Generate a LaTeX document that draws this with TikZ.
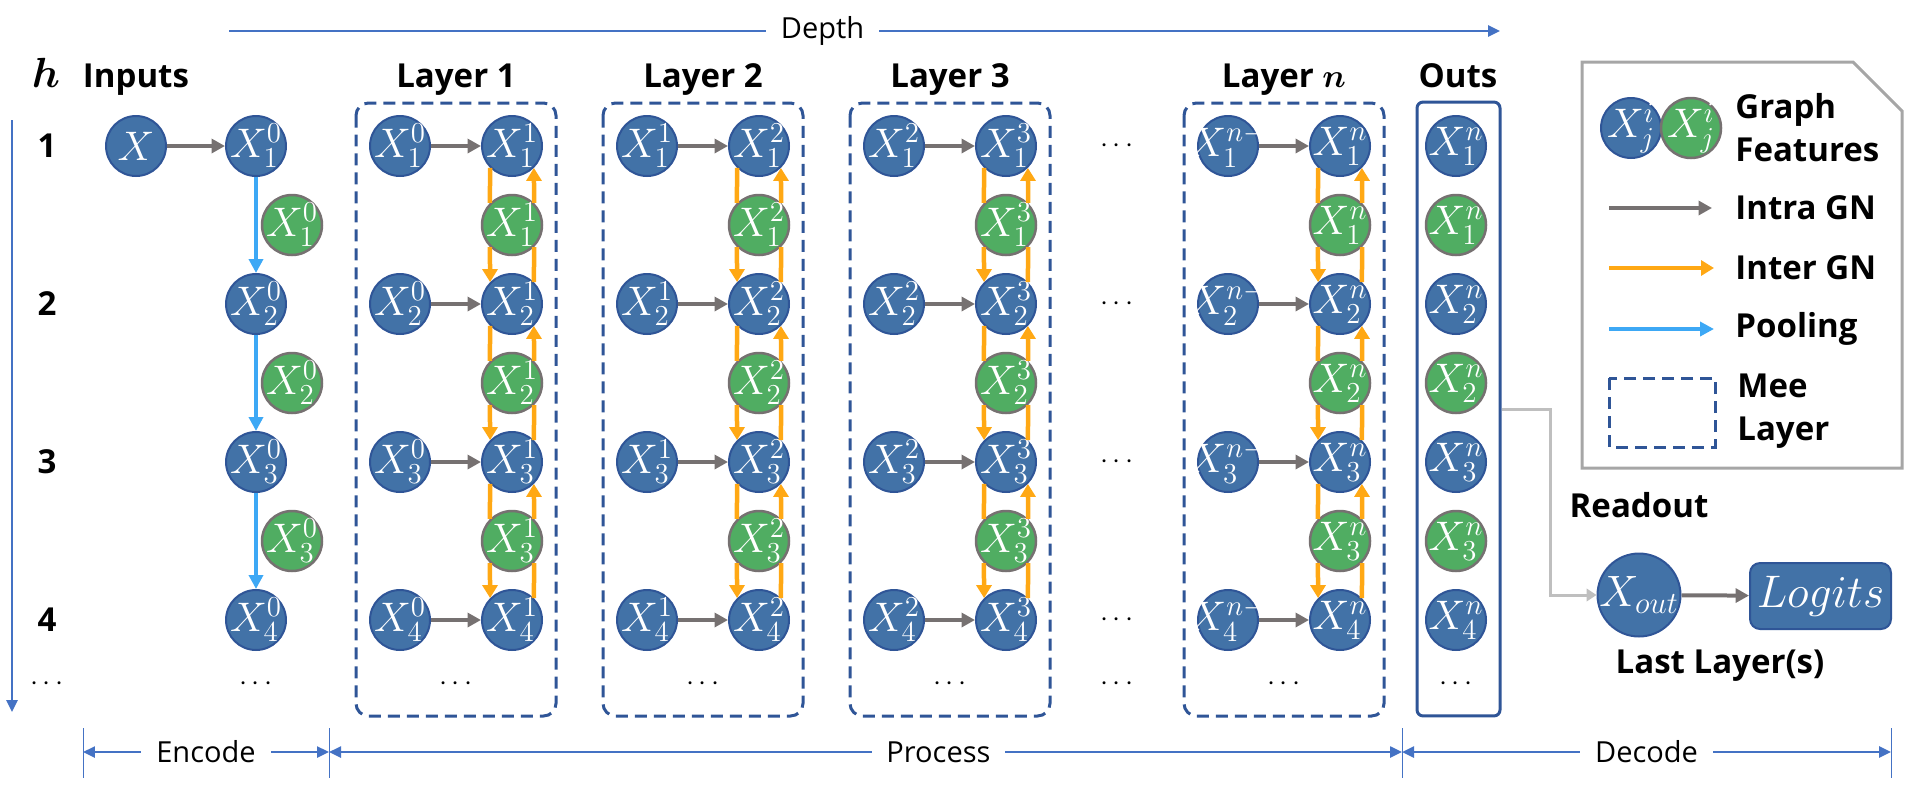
\RequirePackage{fix-cm}
\documentclass[tikz,border=0pt]{standalone}
\usepackage{bm}
\usepackage[no-math]{fontspec}
\setmainfont{Open Sans}
\usepackage{tikz}
\usetikzlibrary{positioning, arrows.meta, calc}
\definecolor{nodeBlue}{RGB}{66,114,167}
\definecolor{nodeEdge}{RGB}{47,85,151}
\definecolor{nodeGreen}{RGB}{80,173,98}
\definecolor{edgeGray}{RGB}{118,113,113}
\definecolor{interOrange}{RGB}{255,168,20}
\definecolor{poolBlue}{RGB}{61,168,245}
\definecolor{meeBlue}{RGB}{47,85,151}
\definecolor{axisBlue}{RGB}{68,114,196}
\definecolor{boxGray}{RGB}{166,166,166}
\definecolor{readGray}{RGB}{191,191,191}
\newcommand{\feat}[2]{\makebox[0pt]{$X_{#2}^{#1}$}}

\begin{document}
\begin{tikzpicture}[x=0.02cm, y=-0.02cm,
  bnode/.style={circle, draw=nodeEdge, line width=0.04cm, fill=nodeBlue,
    minimum size=1.2cm, inner sep=0pt, text=white, font=\fontsize{23.5}{25}\selectfont},
  gnode/.style={bnode, draw=edgeGray, line width=0.05cm, fill=nodeGreen},
  intra/.style={draw=edgeGray, line width=0.08cm, -{Triangle[length=0.27cm, width=0.28cm]}},
  inter/.style={draw=interOrange, line width=0.09cm, -{Triangle[length=0.26cm, width=0.3cm]}},
  interline/.style={draw=interOrange, line width=0.09cm},
  pool/.style={draw=poolBlue, line width=0.09cm, -{Triangle[length=0.28cm, width=0.28cm]}},
  mee/.style={draw=meeBlue, line width=0.06cm, dash pattern=on 0.24cm off 0.14cm, rounded corners=0.25cm},
  heading/.style={font=\bfseries\fontsize{18.8}{24.5}\selectfont, anchor=base, inner sep=0pt},
  lgd/.style={font=\bfseries\fontsize{18.8}{24.5}\selectfont, anchor=west, align=left, inner sep=0pt},
  lbl/.style={fill=white, inner xsep=0.3cm, font=\fontsize{16.5}{18}\selectfont},
  span/.style={draw=axisBlue, line width=0.05cm, -{Triangle[length=0.24cm, width=0.22cm]}},
  spans/.style={span, {Triangle[length=0.24cm, width=0.22cm]}-{Triangle[length=0.24cm, width=0.22cm]}},
  tickline/.style={draw=axisBlue, line width=0.02cm},
  readout/.style={draw=readGray, line width=0.06cm, -{Triangle[length=0.2cm, width=0.25cm]}},
  ellip/.style={font=\fontsize{16.5}{18}\selectfont},
]
  \useasboundingbox (0,0) rectangle (1909,792);

  % axes
  \coordinate (dep-a) at (229,31);
  \coordinate (dep-b) at (1500,31);
  \draw[span] (dep-a) -- node[lbl, pos=0.467] (depth) {Depth} (dep-b);
  \coordinate (ax-a) at (12,120);
  \coordinate (ax-b) at (12,712);
  \draw[span] (ax-a) -- (ax-b);
  \node[heading] (hh) at (46,87) {\fontsize{24}{26}\selectfont$\bm{h}$};
  \foreach \i/\yy in {1/146,2/304,3/462,4/620}
    \node[heading, anchor=center] (row\i) at (47,\yy) {\i};
  \node[ellip] (row-dots) at (47,684) {$\cdots$};

  % inputs
  \node[heading] (t-in) at (136,87) {Inputs};
  \node[bnode] (x) at (136,146) {\makebox[0pt]{$X$}};
  \foreach \i/\yy in {1/146,2/304,3/462,4/620}
    \node[bnode] (in\i) at (256,\yy) {\feat{0}{\i}};
  \foreach \i/\yy in {1/225,2/383,3/541}
    \node[gnode] (ing\i) at (292,\yy) {\feat{0}{\i}};
  \node[ellip] (in-dots) at (256,684) {$\cdots$};
  \draw[intra] (x) -- (in1);
  \foreach \i/\j in {1/2,2/3,3/4}
    \draw[pool] (in\i) -- (in\j);

  % mee layers
  \foreach \lx/\pa/\pb/\ly/\tname in {400/0/1/a/{Layer 1}, 647/1/2/b/{Layer 2},
      894/2/3/c/{Layer 3}, 1228/{n-}/n/d/{Layer $\bm{n}$}} {
    \draw[mee] (\lx-44,103) rectangle (\lx+156,716);
    \node[heading] (t-\ly) at (\lx+56,87) {\tname};
    \node[ellip] (\ly-dots) at (\lx+56,684) {$\cdots$};
    \foreach \i/\yy in {1/146,2/304,3/462,4/620} {
      \node[bnode] (\ly-l\i) at (\lx,\yy) {\feat{\pa}{\i}};
      \node[bnode] (\ly-r\i) at (\lx+112,\yy) {\feat{\pb}{\i}};
      \draw[intra] (\ly-l\i) -- (\ly-r\i);
    }
    \foreach \i/\yy in {1/225,2/383,3/541}
      \node[gnode] (\ly-g\i) at (\lx+112,\yy) {\feat{\pb}{\i}};
    \foreach \i/\j in {1/2,2/3,3/4} {
      \draw[interline] (\ly-r\i.225) -- (\ly-g\i.135);
      \draw[inter] (\ly-g\i.225) -- (\ly-r\j.135);
      \draw[interline] (\ly-r\j.45) -- (\ly-g\i.315);
      \draw[inter] (\ly-g\i.45) -- (\ly-r\i.315);
    }
  }
  \foreach \yy in {146,304,462,620,684}
    \node[ellip] (gap\yy) at (1117,\yy) {$\cdots$};

  % outs
  \node[heading] (t-outs) at (1458,87) {Outs};
  \node[draw=meeBlue, line width=0.06cm, rounded corners=0.12cm,
    minimum width=1.66cm, minimum height=12.28cm] (outs) at (1458.5,409) {};
  \foreach \i/\yy in {1/146,2/304,3/462,4/620}
    \node[bnode] (out\i) at (1456,\yy) {\feat{n}{\i}};
  \foreach \i/\yy in {1/225,2/383,3/541}
    \node[gnode] (outg\i) at (1456,\yy) {\feat{n}{\i}};
  \node[ellip] (out-dots) at (1456,684) {$\cdots$};

  % readout
  \node[heading, anchor=center] (t-read) at (1639,505) {Readout};
  \node[bnode, minimum size=1.66cm, font=\fontsize{25}{27}\selectfont] (xout) at (1639,595)
    {\makebox[0pt]{$X_{out}$}};
  \node[rectangle, rounded corners=0.2cm, fill=nodeBlue, draw=nodeEdge, line width=0.04cm,
    minimum width=2.82cm, minimum height=1.32cm, text=white,
    font=\fontsize{26}{28}\selectfont] (logits) at (1820.5,596) {$Logits$};
  \node[heading, anchor=center] (t-last) at (1720,666) {Last Layer(s)};
  \draw[intra] (xout) -- (logits);
  \draw[readout] (outs.east) -- ++(49,0) |- (xout.west);

  % legend
  \draw[boxGray, line width=0.06cm] (1582,62) -- (1853,62) -- (1902,111) -- (1902,468) -- (1582,468) -- cycle;
  \node[bnode] (lg-b) at (1631,128) {\feat{i}{j}};
  \node[gnode] (lg-g) at (1691,128) {\feat{i}{j}};
  \node[lgd] (lg-feat) at (1735,128) {Graph\\Features};
  \coordinate (lg-ia) at (1609,208);
  \coordinate (lg-ib) at (1712,208);
  \draw[intra] (lg-ia) -- (lg-ib);
  \node[lgd] (lg-intra) at (1735,208) {Intra GN};
  \coordinate (lg-oa) at (1609,268);
  \coordinate (lg-ob) at (1714,268);
  \draw[inter] (lg-oa) -- (lg-ob);
  \node[lgd] (lg-inter) at (1735,268) {Inter GN};
  \coordinate (lg-pa) at (1609,329);
  \coordinate (lg-pb) at (1714,329);
  \draw[pool] (lg-pa) -- (lg-pb);
  \node[lgd] (lg-pool) at (1735,329) {Pooling};
  \draw[mee, rounded corners=0pt] (1609,378) rectangle (1715,447);
  \node[lgd] (lg-mee) at (1737,411) {Mee\\Layer};

  % encode / process / decode
  \foreach \tx in {83,329,1402,1891}
    \draw[tickline] (\tx,728) -- (\tx,778);
  \coordinate (tk1) at (83,752);
  \coordinate (tk2) at (329,752);
  \coordinate (tk3) at (1402,752);
  \coordinate (tk4) at (1891,752);
  \draw[spans] (tk1) -- node[lbl] (enc) {Encode} (tk2);
  \draw[spans] (tk2) -- node[lbl, pos=0.568] (pro) {Process} (tk3);
  \draw[spans] (tk3) -- node[lbl] (dec) {Decode} (tk4);
\end{tikzpicture}
\end{document}
